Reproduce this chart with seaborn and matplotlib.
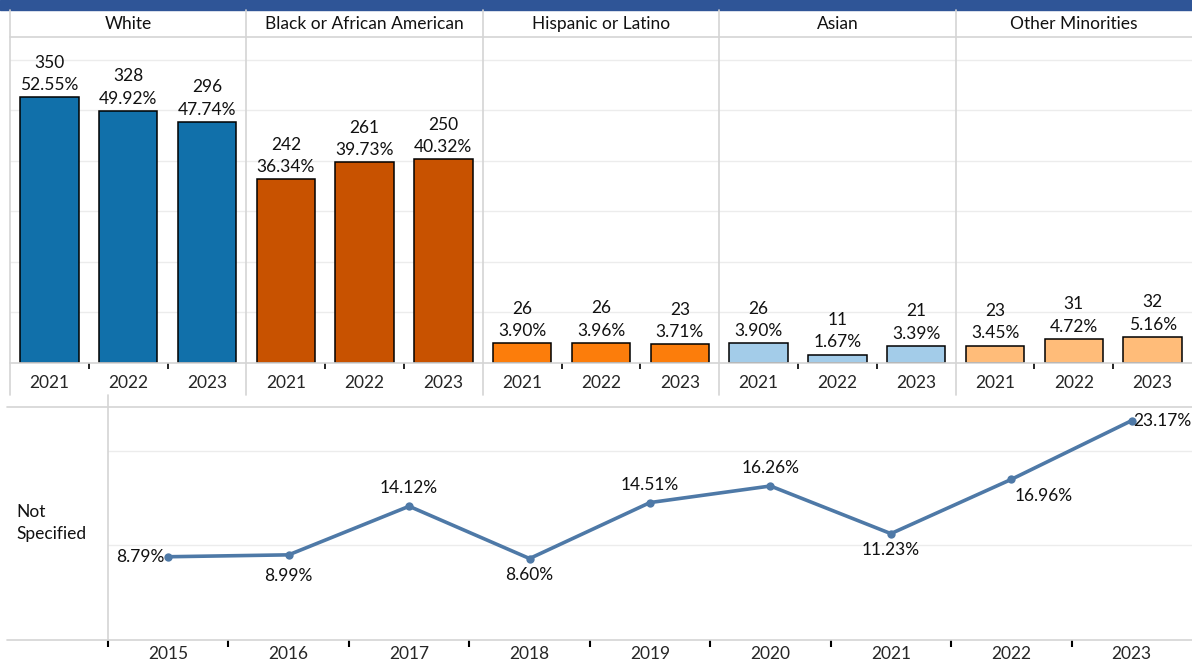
import matplotlib
matplotlib.use('Agg')
import matplotlib.pyplot as plt
from matplotlib.lines import Line2D
from matplotlib.patches import Rectangle
import seaborn as sns
import pandas as pd

# --- data ---
groups = ['White', 'Black or African American', 'Hispanic or Latino', 'Asian', 'Other Minorities']
years = ['2021', '2022', '2023']
counts = {
    'White': [350, 328, 296],
    'Black or African American': [242, 261, 250],
    'Hispanic or Latino': [26, 26, 23],
    'Asian': [26, 11, 21],
    'Other Minorities': [23, 31, 32],
}
pcts = {
    'White': [52.55, 49.92, 47.74],
    'Black or African American': [36.34, 39.73, 40.32],
    'Hispanic or Latino': [3.90, 3.96, 3.71],
    'Asian': [3.90, 1.67, 3.39],
    'Other Minorities': [3.45, 4.72, 5.16],
}
ns_years = [2015, 2016, 2017, 2018, 2019, 2020, 2021, 2022, 2023]
ns_pct = [8.79, 8.99, 14.12, 8.60, 14.51, 16.26, 11.23, 16.96, 23.17]
ns_label = 'Not\nSpecified'

# --- styling ---
colors = {
    'White': '#1170aa',
    'Black or African American': '#c85200',
    'Hispanic or Latino': '#fc7d0b',
    'Asian': '#a3cce9',
    'Other Minorities': '#ffbc79',
}
# label placement for the line chart: (dx, dy) in points, ha
ns_label_pos = [(-3, 0, 'right'), (0, -15, 'center'), (0, 13, 'center'), (0, -12, 'center'),
                (0, 13, 'center'), (0, 13, 'center'), (0, -12, 'center'), (23, -12, 'center'),
                (1, 0, 'left')]

sns.set_style('white')
plt.rcParams['font.family'] = ['Lato', 'DejaVu Sans']
plt.rcParams['font.size'] = 12.5
plt.rcParams['text.color'] = '#111111'
FS = 12.5

W, H = 1192, 664
fig = plt.figure(figsize=(W / 100, H / 100), dpi=100)


def fx(x):
    return x / W


def fy(y):
    return 1 - y / H


def hline(y, x0, x1, color='#d4d4d4', lw=1.2):
    fig.add_artist(Line2D([fx(x0), fx(x1)], [fy(y), fy(y)], color=color, lw=lw,
                          transform=fig.transFigure))


def vline(x, y0, y1, color='#d4d4d4', lw=1.2):
    fig.add_artist(Line2D([fx(x), fx(x)], [fy(y0), fy(y1)], color=color, lw=lw,
                          transform=fig.transFigure))


# top banner
fig.add_artist(Rectangle((0, fy(10)), 1, 10 / H, color='#2f5597', transform=fig.transFigure))

# --- top panels ---
left, right, top, base = 10, 1192, 37, 363
pw = (right - left) / len(groups)
for i, g in enumerate(groups):
    x0 = left + i * pw
    ax = fig.add_axes([fx(x0), fy(base), pw / W, (base - top) / H])
    df = pd.DataFrame({'year': years, 'pct': pcts[g]})
    sns.barplot(data=df, x='year', y='pct', color=colors[g], width=0.74,
                edgecolor='black', linewidth=1.1, saturation=1, ax=ax)
    ax.set_ylim(0, 64.5)
    ax.set_xlim(-0.5, 2.5)
    ax.set_yticks([10, 20, 30, 40, 50, 60])
    ax.yaxis.grid(True, color='#ececec', lw=1)
    ax.set_axisbelow(True)
    ax.tick_params(axis='y', left=False, labelleft=False)
    ax.tick_params(axis='x', length=0, pad=9, labelsize=FS)
    ax.set_xticks([0.5, 1.5], minor=True)
    ax.tick_params(axis='x', which='minor', bottom=True, length=4, width=1.2,
                   color='black', direction='out')
    ax.set_xlabel('')
    ax.set_ylabel('')
    for s in ax.spines.values():
        s.set_visible(False)
    for j, (c, p) in enumerate(zip(counts[g], pcts[g])):
        ax.annotate(f'{c}\n{p:.2f}%', (j, p), xytext=(0, 3), textcoords='offset points',
                    ha='center', va='bottom', fontsize=FS, linespacing=1.5)
    fig.text(fx(x0 + pw / 2), fy(24), g, ha='center', va='center', fontsize=FS)

# grid lines of the top table
hline(37, left, right)
hline(base, left, right)
for i in range(len(groups)):
    vline(left + i * pw, 10, 395)

# --- bottom line chart ---
bl, bt, bb = 108, 407, 640
ax2 = fig.add_axes([fx(bl), fy(bb), (right - bl) / W, (bb - bt) / H])
sns.lineplot(x=ns_years, y=ns_pct, color='#4e79a7', lw=2.6, marker='o', markersize=6,
             markeredgewidth=0, ax=ax2)
ax2.set_xlim(2014.5, 2023.5)
ax2.set_ylim(0, 24.6)
ax2.set_yticks([10, 20])
ax2.yaxis.grid(True, color='#ececec', lw=1)
ax2.tick_params(axis='y', left=False, labelleft=False)
ax2.set_xticks(ns_years)
ax2.set_xticklabels([str(y) for y in ns_years])
ax2.tick_params(axis='x', length=0, pad=4, labelsize=FS)
ax2.set_xticks([y - 0.5 for y in ns_years], minor=True)
ax2.tick_params(axis='x', which='minor', bottom=True, length=5, width=1.5,
                color='black', direction='out')
for s in ax2.spines.values():
    s.set_visible(False)
for yr, p, (dx, dy, ha) in zip(ns_years, ns_pct, ns_label_pos):
    ax2.annotate(f'{p:.2f}%', (yr, p), xytext=(dx, dy), textcoords='offset points',
                 ha=ha, va='center', fontsize=FS)

hline(bt, 7, right)
hline(bb, 7, right)
vline(bl, 395, bb)
fig.text(fx(16), fy(523), ns_label, ha='left', va='center', fontsize=FS, linespacing=1.5)

fig.savefig('out.png', dpi=100)
